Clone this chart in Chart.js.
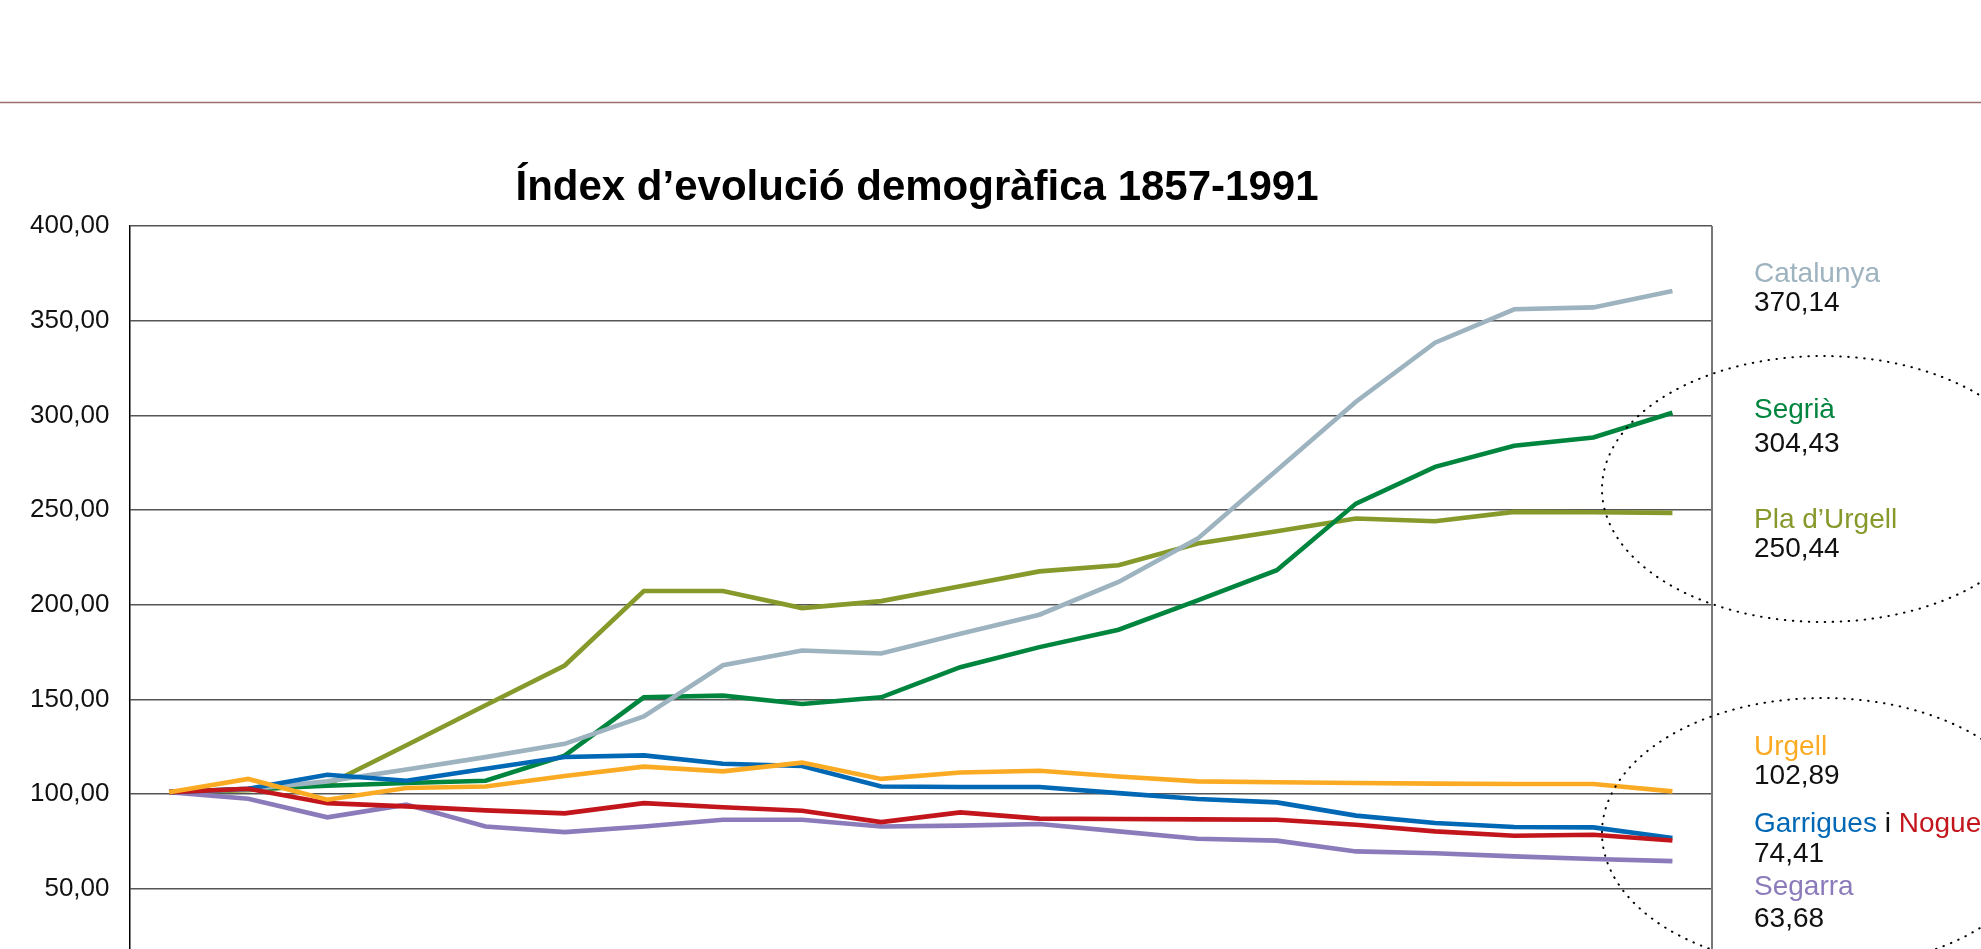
<!DOCTYPE html>
<html>
<head>
<meta charset="utf-8">
<title>Índex d'evolució demogràfica 1857-1991</title>
<script src="https://cdn.jsdelivr.net/npm/chart.js@4.4.1/dist/chart.umd.min.js"></script>
<style>
  html, body { margin: 0; padding: 0; background: #fff; overflow: hidden; }
  canvas { display: block; }
</style>
</head>
<body>
<canvas id="chart" width="1981" height="1019"></canvas>
<script>
// census years (x axis is not visible in the crop, but keeps the spacing)
const years = ['1857', '1860', '1877', '1887', '1897', '1900', '1910', '1920', '1930', '1936',
               '1940', '1950', '1955', '1960', '1965', '1970', '1975', '1981', '1986', '1991'];

const catalunya = [101, 102.5, 106.7, 113, 119.5, 126.5, 141, 168, 175.8, 174.2,
                   184.7, 194.7, 212, 234.9, 271, 307.2, 338.4, 356, 357, 365.7];
const segria = [101, 102.5, 104.4, 105.8, 107, 120.3, 151.1, 152, 147.6, 151.1,
                167, 177.6, 186.8, 202.3, 218.2, 253.4, 272.8, 283.9, 288.3, 301.4];
const plaUrgell = [101, 102, 104.9, 125.8, 146.9, 167.9, 207.2, 207.2, 198.2, 201.9,
                   209.7, 217.6, 220.8, 232.3, 238.8, 245.5, 244.1, 249, 248.8, 248.5];
const urgell = [101, 108, 97, 103.2, 104, 109.5, 114.5, 112, 116.6, 108,
                111.4, 112.3, 109.3, 106.7, 106.2, 105.8, 105.5, 105.3, 105.3, 101.4];
const garrigues = [101, 102.8, 110.2, 107, 113.4, 119.6, 120.4, 116, 114.8, 104,
                   103.7, 103.7, 100.5, 97.4, 95.6, 88.6, 84.7, 82.6, 82.4, 76.8];
const noguera = [101, 102.8, 95.2, 93.5, 91.4, 89.8, 95.2, 93, 91.2, 85.2,
                 90.3, 87, 86.8, 86.6, 86.4, 83.8, 80.3, 78, 78.5, 75.5];
const segarra = [101, 97.5, 87.7, 94.4, 82.9, 79.9, 82.9, 86.4, 86.4, 82.9,
                 83.3, 84.2, 80.3, 76.4, 75.4, 69.7, 68.7, 67.1, 65.7, 64.6];

// final values written next to the chart
const finalLabels = ['370,14', '304,43', '250,44', '102,89', '74,41', '63,68'];

const colors = {
  catalunya: '#9db3bf',
  segria: '#00853e',
  plaUrgell: '#86992b',
  urgell: '#fbab23',
  garrigues: '#0068b4',
  noguera: '#c3161c',
  segarra: '#8b7bbb'
};

const line = (label, data, color) => ({
  label, data,
  borderColor: color,
  backgroundColor: color,
  borderWidth: 4.6,
  pointRadius: 0,
  tension: 0,
  fill: false
});

const extras = {
  id: 'extras',
  afterDraw(chart) {
    const ctx = chart.ctx;
    const area = chart.chartArea;
    ctx.save();

    // right border of the plot
    ctx.strokeStyle = '#777';
    ctx.lineWidth = 2;
    ctx.beginPath();
    ctx.moveTo(area.right, area.top);
    ctx.lineTo(area.right, area.bottom);
    ctx.stroke();

    // rule at the top of the page
    ctx.strokeStyle = '#9a6e6e';
    ctx.lineWidth = 1.6;
    ctx.beginPath();
    ctx.moveTo(0, 102.5);
    ctx.lineTo(chart.width, 102.5);
    ctx.stroke();

    // title
    ctx.fillStyle = '#000';
    ctx.font = 'bold 42px "Liberation Sans", Arial, sans-serif';
    ctx.textAlign = 'center';
    ctx.textBaseline = 'alphabetic';
    ctx.fillText('Índex d\u2019evolució demogràfica 1857-1991', 917, 200);

    // dotted ellipses
    ctx.strokeStyle = '#000';
    ctx.lineWidth = 2;
    ctx.lineCap = 'round';
    ctx.setLineDash([0.5, 7.5]);
    ctx.beginPath();
    ctx.ellipse(1823, 489, 221, 133, 0, 0, Math.PI * 2);
    ctx.stroke();
    ctx.beginPath();
    ctx.ellipse(1823, 833, 221, 135, 0, 0, Math.PI * 2);
    ctx.stroke();
    ctx.setLineDash([]);

    // series names and final values
    ctx.textAlign = 'left';
    ctx.font = '28px "Liberation Sans", Arial, sans-serif';
    const x = 1754;
    const put = (text, color, y) => { ctx.fillStyle = color; ctx.fillText(text, x, y); };
    put('Catalunya', colors.catalunya, 282);
    put(finalLabels[0], '#111', 311);
    put('Segrià', colors.segria, 418);
    put(finalLabels[1], '#111', 452);
    put('Pla d\u2019Urgell', colors.plaUrgell, 528);
    put(finalLabels[2], '#111', 557);
    put('Urgell', colors.urgell, 755);
    put(finalLabels[3], '#111', 784);

    let gx = x;
    const parts = [['Garrigues', colors.garrigues], [' i ', '#111'], ['Noguera', colors.noguera]];
    parts.forEach(([t, c]) => {
      ctx.fillStyle = c;
      ctx.fillText(t, gx, 832);
      gx += ctx.measureText(t).width;
    });
    put(finalLabels[4], '#111', 862);
    put('Segarra', colors.segarra, 895);
    put(finalLabels[5], '#111', 927);

    ctx.restore();
  }
};

new Chart(document.getElementById('chart'), {
  type: 'line',
  data: {
    labels: years,
    datasets: [
      line('Urgell', urgell, colors.urgell),
      line('Noguera', noguera, colors.noguera),
      line('Garrigues', garrigues, colors.garrigues),
      line('Segarra', segarra, colors.segarra),
      line('Catalunya', catalunya, colors.catalunya),
      line('Segrià', segria, colors.segria),
      line('Pla d\u2019Urgell', plaUrgell, colors.plaUrgell)
    ]
  },
  options: {
    responsive: false,
    animation: false,
    devicePixelRatio: 1,
    layout: { padding: { left: 0, right: 269, top: 226, bottom: 17.4 } },
    plugins: {
      legend: { display: false },
      title: { display: false },
      tooltip: { enabled: false }
    },
    scales: {
      x: {
        display: false,
        offset: true
      },
      y: {
        min: 0,
        max: 400,
        afterFit: (scale) => { scale.width = 129.5; },
        ticks: {
          stepSize: 50,
          padding: 20,
          color: '#111',
          font: { family: '"Liberation Sans", Arial, sans-serif', size: 26 },
          callback: (v) => v.toFixed(2).replace('.', ',')
        },
        grid: { color: '#555', lineWidth: 1.4, drawTicks: false },
        border: { display: true, color: '#000', width: 1.5 }
      }
    }
  },
  plugins: [extras]
});
</script>
</body>
</html>
